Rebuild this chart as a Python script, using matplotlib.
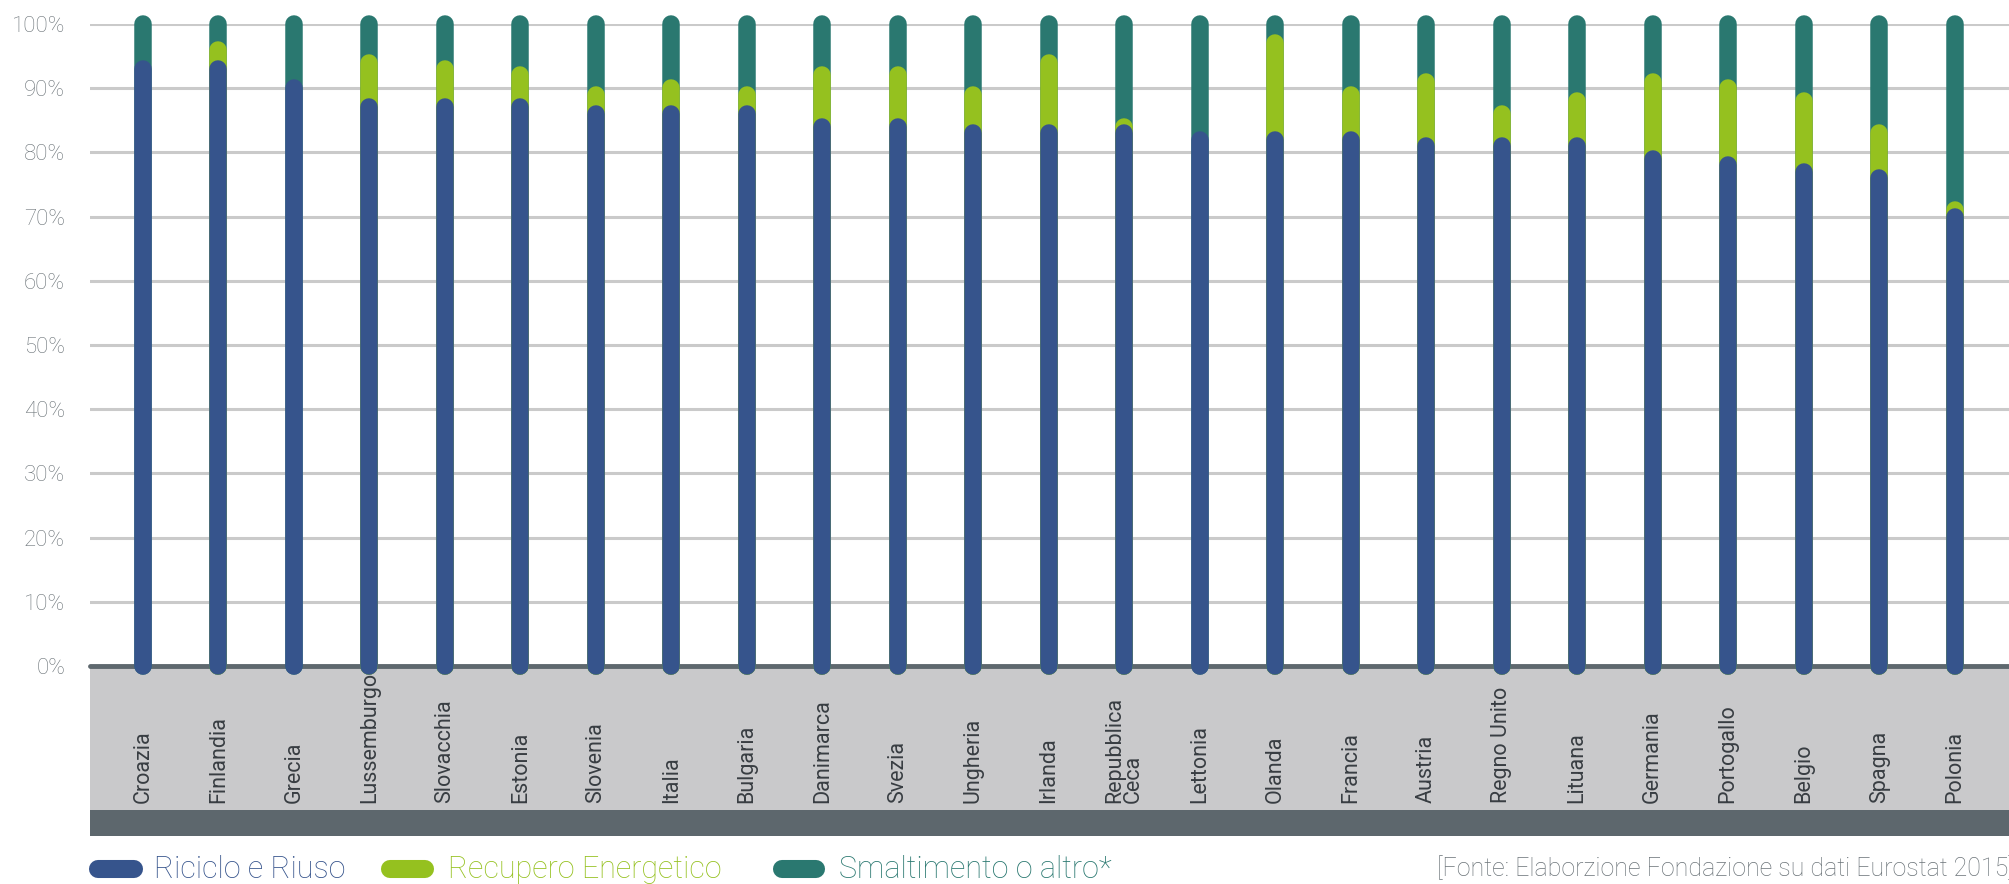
import matplotlib
matplotlib.use("Agg")
import matplotlib.pyplot as plt
from matplotlib.patches import Rectangle
from matplotlib.lines import Line2D
from matplotlib.transforms import blended_transform_factory

# dati (% sul totale)
paesi = ["Croazia", "Finlandia", "Grecia", "Lussemburgo", "Slovacchia", "Estonia",
         "Slovenia", "Italia", "Bulgaria", "Danimarca", "Svezia", "Ungheria",
         "Irlanda", "Repubblica\nCeca", "Lettonia", "Olanda", "Francia", "Austria",
         "Regno Unito", "Lituana", "Germania", "Portogallo", "Belgio", "Spagna", "Polonia"]
riciclo = [93, 93, 90, 87, 87, 87, 86, 86, 86, 84, 84, 83, 83, 83, 82, 82, 82, 81,
           81, 81, 79, 78, 77, 76, 70]
recupero = [0, 3, 0, 7, 6, 5, 3, 4, 3, 8, 8, 6, 11, 1, 0, 15, 7, 10, 5, 7, 12, 12, 11, 7, 1]
smaltimento = [100 - r - e for r, e in zip(riciclo, recupero)]

serie = ["Riciclo e Riuso", "Recupero Energetico", "Smaltimento o altro*"]
fonte = "[Fonte: Elaborzione Fondazione su dati Eurostat 2015]"

blu = "#36548c"
verde = "#95c11f"
teal = "#2a7870"
grigio_testo = "#6b7378"

W, H = 2009, 884
fig = plt.figure(figsize=(W / 100, H / 100), dpi=100)
ax = fig.add_axes([90 / W, (H - 666) / H, 1 - 90 / W, (666 - 24) / H])
ax.set_facecolor("none")

x = list(range(len(paesi)))
lw = 12.6
cima_verde = [r + e for r, e in zip(riciclo, recupero)]
cima_teal = [r + e + s for r, e, s in zip(riciclo, recupero, smaltimento)]

for i in x:
    ax.plot([i, i], [0, cima_teal[i]], color=teal, lw=lw, solid_capstyle="round", clip_on=False, zorder=3)
    if recupero[i] > 0:
        ax.plot([i, i], [0, cima_verde[i]], color=verde, lw=lw, solid_capstyle="round", clip_on=False, zorder=4)
    ax.plot([i, i], [0, riciclo[i]], color=blu, lw=lw, solid_capstyle="round", clip_on=False, zorder=5)

for v in range(10, 101, 10):
    ax.axhline(v, color="#cacaca", lw=2.2, zorder=1)
ax.axhline(0, color="#5e686e", lw=3.5, solid_capstyle="round", clip_on=False, zorder=2)

ax.set_xlim(-0.7, len(paesi) - 0.28)
ax.set_ylim(0, 100)
ax.set_yticks(range(0, 101, 10))
ax.set_yticklabels(["%d%%" % v for v in range(0, 101, 10)], fontfamily="Roboto",
                   fontweight="light", fontsize=16, color=grigio_testo)
ax.tick_params(axis="y", length=0, pad=18)
ax.set_xticks([])
for s in ax.spines.values():
    s.set_visible(False)

# fasce grigie sotto l'asse
fig.patches.append(Rectangle((90 / W, (H - 810) / H), 1, (810 - 666) / H, transform=fig.transFigure,
                             facecolor="#c9c9cb", edgecolor="none", zorder=-2))
fig.patches.append(Rectangle((90 / W, (H - 836) / H), 1, (836 - 810) / H, transform=fig.transFigure,
                             facecolor="#5d676d", edgecolor="none", zorder=-2))

trans = blended_transform_factory(ax.transData, fig.transFigure)
for i, p in enumerate(paesi):
    ax.text(i, (H - 803) / H, p, transform=trans, rotation=90, ha="center", va="bottom",
            multialignment="left", fontfamily="Roboto", fontsize=15.5, color="#383d42",
            linespacing=0.85, clip_on=False)

# legenda
yl = (H - 869) / H
for (x0, x1, xt), nome, col in zip([(98, 134, 154), (390, 425, 448), (782, 816, 839)], serie, [blu, verde, teal]):
    fig.add_artist(Line2D([x0 / W, x1 / W], [yl, yl], transform=fig.transFigure, color=col,
                          lw=13, solid_capstyle="round"))
    fig.text(xt / W, yl, nome, color=col, fontfamily="Roboto", fontweight="light",
             fontsize=22, va="center", ha="left")
fig.text(1437 / W, yl, fonte, color=grigio_testo, fontfamily="Roboto", fontweight="light",
         fontsize=18, va="center", ha="left")

fig.savefig("out.png", dpi=100)
